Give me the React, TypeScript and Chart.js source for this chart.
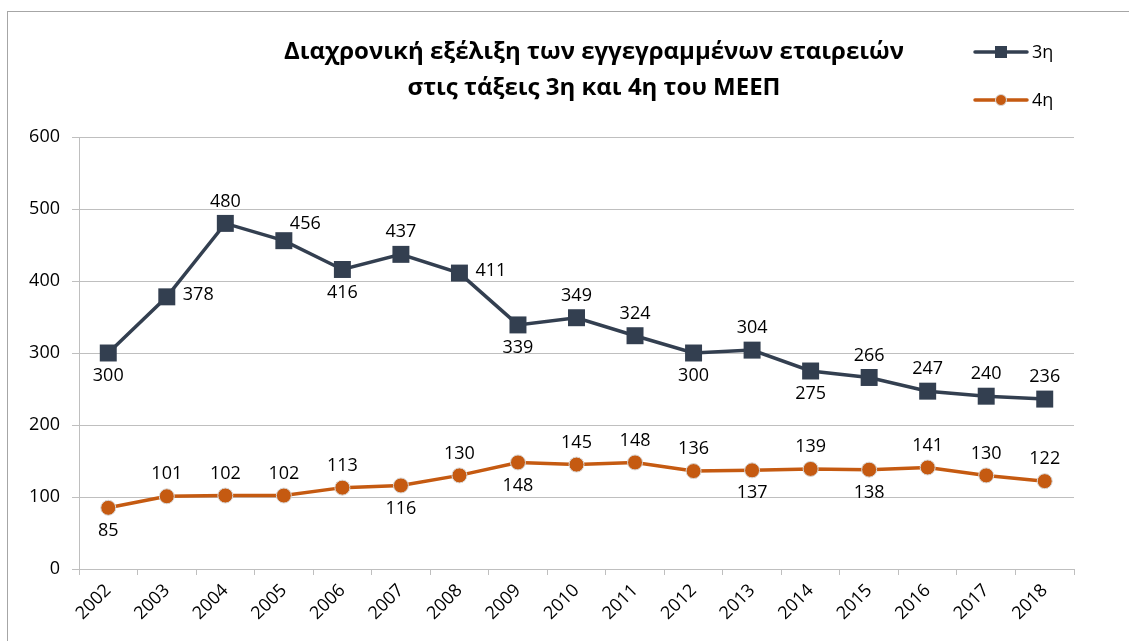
import React, { useEffect, useRef } from "react";
import { Chart, registerables } from "chart.js";

Chart.register(...registerables);

const years = ["2002","2003","2004","2005","2006","2007","2008","2009","2010","2011","2012","2013","2014","2015","2016","2017","2018"];
const series3 = [300, 378, 480, 456, 416, 437, 411, 339, 349, 324, 300, 304, 275, 266, 247, 240, 236];
const series4 = [85, 101, 102, 102, 113, 116, 130, 148, 145, 148, 136, 137, 139, 138, 141, 130, 122];
const yTicks = [0, 100, 200, 300, 400, 500, 600];
const titleLines = ["Διαχρονική εξέλιξη των εγγεγραμμένων εταιρειών", "στις τάξεις 3η και 4η του ΜΕΕΠ"];
const seriesNames = ["3η", "4η"];

const place3 = ["below","right","above","rightAbove","below","above","right","below","above","above","below","above","below","above","above","above","above"];
const place4 = ["below","above","above","above","above","below","above","below","above","above","above","below","above","below","above","above","above"];

const NAVY = "#333f50";
const ORANGE = "#c55a11";
const GRID = "#bfbfbf";
const FONT = "'Open Sans', 'Noto Sans', sans-serif";

const decorPlugin = {
  id: "decor",
  beforeDraw(chart: any) {
    const ctx = chart.ctx;
    ctx.save();
    ctx.fillStyle = "#ffffff";
    ctx.fillRect(0, 0, chart.width, chart.height);
    ctx.strokeStyle = "#a6a6a6";
    ctx.lineWidth = 1;
    ctx.strokeRect(7.5, 11.5, chart.width + 10, chart.height + 10);
    ctx.restore();
  },
  afterDatasetsDraw(chart: any) {
    const ctx = chart.ctx;
    ctx.save();
    ctx.font = `18px ${FONT}`;
    ctx.fillStyle = "#000000";
    const places = [place3, place4];
    chart.data.datasets.forEach((ds: any, di: number) => {
      const meta = chart.getDatasetMeta(di);
      meta.data.forEach((pt: any, i: number) => {
        const p = places[di][i];
        const txt = String(ds.data[i]);
        let x = pt.x, y = pt.y;
        ctx.textBaseline = "middle";
        if (p === "above") { ctx.textAlign = "center"; y -= 22; }
        else if (p === "below") { ctx.textAlign = "center"; y += 23; }
        else if (p === "right") { ctx.textAlign = "left"; x += 16; y -= 2; }
        else if (p === "rightAbove") { ctx.textAlign = "left"; x += 6; y -= 17; }
        ctx.fillText(txt, x, y);
      });
    });
    ctx.restore();
  },
  afterDraw(chart: any) {
    const ctx = chart.ctx;
    ctx.save();
    // title
    ctx.fillStyle = "#000000";
    ctx.font = `bold 24px ${FONT}`;
    ctx.textAlign = "center";
    ctx.textBaseline = "middle";
    ctx.fillText(titleLines[0], 594, 52);
    ctx.fillText(titleLines[1], 594, 88);
    // legend
    const colors = [NAVY, ORANGE];
    const ys = [52, 100];
    for (let k = 0; k < 2; k++) {
      const y = ys[k];
      ctx.strokeStyle = colors[k];
      ctx.lineWidth = 3.5;
      ctx.lineCap = "round";
      ctx.beginPath();
      ctx.moveTo(975, y);
      ctx.lineTo(1027, y);
      ctx.stroke();
      ctx.fillStyle = colors[k];
      if (k === 0) {
        ctx.fillRect(1001 - 6, y - 6, 12, 12);
      } else {
        ctx.beginPath();
        ctx.arc(1001, y, 5.5, 0, Math.PI * 2);
        ctx.fill();
        ctx.strokeStyle = "#d9d9d9";
        ctx.lineWidth = 1;
        ctx.stroke();
      }
      ctx.fillStyle = "#000000";
      ctx.font = `18px ${FONT}`;
      ctx.textAlign = "left";
      ctx.textBaseline = "middle";
      ctx.fillText(seriesNames[k], 1032, y + 1);
    }
    ctx.restore();
  },
};

export default function App() {
  const ref = useRef<HTMLCanvasElement | null>(null);
  useEffect(() => {
    if (!ref.current) return;
    const chart = new Chart(ref.current, {
      type: "line",
      data: {
        labels: years,
        datasets: [
          {
            label: seriesNames[0],
            data: series3,
            borderColor: NAVY,
            backgroundColor: NAVY,
            borderWidth: 3.5,
            pointStyle: "rect",
            pointRadius: 12,
            pointBorderWidth: 0,
            pointBorderColor: NAVY,
            tension: 0,
          },
          {
            label: seriesNames[1],
            data: series4,
            borderColor: ORANGE,
            backgroundColor: ORANGE,
            borderWidth: 3.5,
            pointStyle: "circle",
            pointRadius: 7.5,
            pointBorderWidth: 1,
            pointBorderColor: "#d9d9d9",
            tension: 0,
          },
        ],
      },
      options: {
        animation: false,
        responsive: true,
        maintainAspectRatio: false,
        layout: { padding: { top: 137, left: 0, right: 55, bottom: 0 } },
        plugins: {
          legend: { display: false },
          title: { display: false },
          tooltip: { enabled: false },
        },
        scales: {
          y: {
            min: 0,
            max: 600,
            afterBuildTicks(scale: any) {
              scale.ticks = yTicks.map((v) => ({ value: v }));
            },
            afterFit(scale: any) { scale.width = 79; },
            ticks: { color: "#000000", font: { family: FONT, size: 18 }, padding: 12 },
            grid: { color: GRID, lineWidth: 1, tickLength: 7 },
            border: { color: GRID, width: 1 },
          },
          x: {
            offset: true,
            afterFit(scale: any) { scale.height = 72; },
            ticks: { color: "#000000", font: { family: FONT, size: 18 }, maxRotation: 45, minRotation: 45, padding: 5, autoSkip: false },
            grid: { offset: true, drawOnChartArea: false, color: GRID, tickLength: 6 },
            border: { color: GRID, width: 1 },
          },
        },
      },
      plugins: [decorPlugin],
    });
    return () => chart.destroy();
  }, []);
  return (
    <div style={{ position: "absolute", left: 0, top: 0, width: 1129, height: 641 }}>
      <canvas ref={ref} />
    </div>
  );
}
